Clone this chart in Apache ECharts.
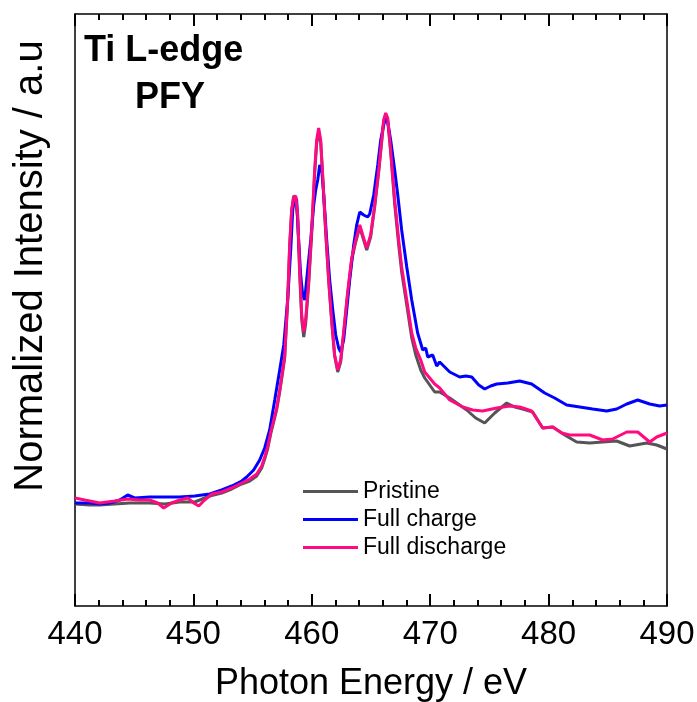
<!DOCTYPE html>
<html>
<head>
<meta charset="utf-8">
<title>Ti L-edge PFY</title>
<script src="https://cdn.jsdelivr.net/npm/echarts@6/dist/echarts.min.js"></script>
<style>
	html, body { margin: 0; padding: 0; background: #ffffff; }
	#echart1 { width: 697px; height: 702px; }
</style>
</head>
<body>
<div id="echart1"></div>
<script>
// 光子能量 (eV) / 归一化强度 (a.u.)
var pristineE = [440.00, 441.24, 442.09, 443.35, 444.62, 446.31, 447.58, 448.84, 450.11, 451.38, 452.39, 453.24, 454.08, 454.76, 455.35, 455.77, 456.02, 456.27, 456.53, 456.78, 457.03, 457.29, 457.54, 457.71, 457.96, 458.13, 458.30, 458.47, 458.64, 458.81, 458.98, 459.15, 459.32, 459.48, 459.74, 459.99, 460.24, 460.41, 460.58, 460.75, 460.92, 461.17, 461.43, 461.68, 461.93, 462.19, 462.44, 462.69, 463.03, 463.37, 463.71, 464.05, 464.30, 464.64, 464.97, 465.31, 465.65, 465.90, 466.07, 466.24, 466.41, 466.66, 467.00, 467.34, 467.59, 468.02, 468.44, 468.78, 469.20, 469.54, 469.96, 470.38, 470.80, 471.65, 473.08, 473.84, 474.60, 475.45, 476.46, 477.14, 477.81, 478.66, 479.50, 480.35, 481.36, 482.37, 483.47, 484.57, 485.75, 486.85, 488.29, 489.13, 490.00];
var pristineI = [0.204, 0.202, 0.202, 0.204, 0.206, 0.206, 0.204, 0.208, 0.208, 0.220, 0.226, 0.234, 0.244, 0.250, 0.260, 0.276, 0.294, 0.314, 0.344, 0.368, 0.392, 0.428, 0.468, 0.496, 0.608, 0.718, 0.792, 0.820, 0.818, 0.772, 0.662, 0.572, 0.538, 0.564, 0.644, 0.744, 0.864, 0.924, 0.948, 0.928, 0.858, 0.748, 0.648, 0.568, 0.500, 0.468, 0.488, 0.544, 0.624, 0.692, 0.728, 0.758, 0.738, 0.712, 0.738, 0.798, 0.868, 0.928, 0.968, 0.982, 0.972, 0.908, 0.804, 0.722, 0.668, 0.602, 0.536, 0.502, 0.472, 0.456, 0.442, 0.428, 0.428, 0.416, 0.392, 0.376, 0.366, 0.386, 0.406, 0.398, 0.394, 0.388, 0.356, 0.358, 0.342, 0.328, 0.326, 0.328, 0.330, 0.320, 0.326, 0.322, 0.314];

var chargeE = [440.00, 441.24, 442.09, 442.93, 443.78, 444.45, 445.04, 446.31, 447.58, 448.84, 450.11, 451.38, 452.39, 453.24, 454.08, 454.50, 455.09, 455.60, 456.02, 456.44, 456.87, 457.29, 457.63, 457.96, 458.22, 458.39, 458.56, 458.72, 458.89, 459.06, 459.23, 459.40, 459.65, 459.91, 460.16, 460.33, 460.50, 460.67, 460.84, 461.01, 461.26, 461.51, 461.77, 462.02, 462.27, 462.44, 462.69, 462.95, 463.20, 463.54, 463.79, 464.05, 464.38, 464.72, 464.89, 465.23, 465.57, 465.82, 466.07, 466.24, 466.41, 466.66, 467.00, 467.26, 467.59, 468.02, 468.44, 468.94, 469.37, 469.62, 469.79, 470.21, 470.55, 470.80, 471.65, 472.49, 473.00, 473.51, 474.10, 474.60, 475.11, 475.62, 476.55, 477.56, 478.57, 479.67, 480.51, 481.53, 482.63, 483.72, 484.91, 485.75, 486.60, 487.53, 488.54, 489.38, 490.00];
var chargeI = [0.206, 0.206, 0.204, 0.206, 0.212, 0.222, 0.216, 0.218, 0.218, 0.218, 0.220, 0.224, 0.232, 0.240, 0.250, 0.258, 0.272, 0.292, 0.316, 0.352, 0.412, 0.472, 0.522, 0.612, 0.712, 0.792, 0.818, 0.812, 0.732, 0.662, 0.622, 0.612, 0.672, 0.732, 0.802, 0.832, 0.852, 0.882, 0.872, 0.822, 0.732, 0.652, 0.592, 0.542, 0.516, 0.508, 0.532, 0.592, 0.652, 0.722, 0.762, 0.788, 0.782, 0.778, 0.784, 0.822, 0.882, 0.932, 0.962, 0.976, 0.968, 0.932, 0.872, 0.822, 0.752, 0.678, 0.612, 0.546, 0.512, 0.516, 0.498, 0.502, 0.480, 0.488, 0.468, 0.458, 0.460, 0.458, 0.442, 0.434, 0.440, 0.444, 0.446, 0.450, 0.444, 0.426, 0.416, 0.402, 0.398, 0.394, 0.390, 0.394, 0.404, 0.412, 0.404, 0.400, 0.402];

var dischargeE = [440.00, 440.82, 442.09, 443.35, 444.45, 445.46, 446.31, 446.98, 447.49, 448.17, 448.84, 449.52, 450.03, 450.45, 450.95, 451.55, 452.39, 453.24, 454.08, 454.76, 455.35, 455.77, 456.02, 456.27, 456.53, 456.78, 457.03, 457.29, 457.54, 457.71, 457.96, 458.13, 458.30, 458.47, 458.64, 458.81, 458.98, 459.15, 459.32, 459.48, 459.74, 459.99, 460.24, 460.41, 460.58, 460.75, 460.92, 461.17, 461.43, 461.68, 461.93, 462.19, 462.44, 462.69, 463.03, 463.37, 463.71, 464.05, 464.30, 464.64, 464.97, 465.31, 465.65, 465.90, 466.07, 466.24, 466.41, 466.66, 467.00, 467.34, 467.59, 468.02, 468.44, 468.78, 469.20, 469.54, 469.96, 470.38, 470.80, 471.65, 472.75, 473.59, 474.43, 475.62, 476.71, 477.56, 478.57, 479.50, 480.35, 481.11, 481.78, 482.63, 483.47, 484.57, 485.41, 486.60, 487.53, 488.54, 489.13, 490.00];
var dischargeI = [0.216, 0.212, 0.206, 0.210, 0.214, 0.212, 0.212, 0.206, 0.196, 0.206, 0.212, 0.216, 0.206, 0.200, 0.212, 0.224, 0.228, 0.236, 0.246, 0.254, 0.264, 0.280, 0.298, 0.318, 0.348, 0.372, 0.396, 0.432, 0.472, 0.500, 0.612, 0.722, 0.792, 0.818, 0.820, 0.782, 0.672, 0.582, 0.548, 0.572, 0.652, 0.752, 0.872, 0.932, 0.956, 0.932, 0.862, 0.752, 0.652, 0.572, 0.502, 0.472, 0.492, 0.548, 0.628, 0.696, 0.732, 0.762, 0.742, 0.716, 0.742, 0.802, 0.872, 0.932, 0.972, 0.986, 0.976, 0.912, 0.812, 0.732, 0.678, 0.612, 0.546, 0.516, 0.492, 0.468, 0.456, 0.444, 0.436, 0.412, 0.398, 0.392, 0.390, 0.396, 0.400, 0.398, 0.390, 0.356, 0.358, 0.346, 0.342, 0.342, 0.342, 0.332, 0.334, 0.348, 0.348, 0.328, 0.338, 0.346];

var seriesNames = ['Pristine', 'Full charge', 'Full discharge'];
var seriesColors = ['#555555', '#0000ff', '#ff0a80'];

var fontName = 'Liberation Sans, Arial, sans-serif';
var tickColor = '#000000';

// 把 x/y 数组拼成 [x, y]
function toPairs(xs, ys) {
	var out = [];
	for (var i = 0; i < xs.length; i++) {
		out.push([xs[i], ys[i]]);
	}
	return out;
}

function lineSeries(idx, data, z) {
	return {
		name : seriesNames[idx],
		type : 'line',
		data : data,
		symbol : 'none',
		z : z,
		lineStyle : {
			color : seriesColors[idx],
			width : 3
		},
		itemStyle : {
			color : seriesColors[idx]
		}
	};
}

// 上下两条 x 轴，刻度朝内，z 放高一点免得被盖住
var xBottom = {
	type : 'value',
	position : 'bottom',
	z : 10,
	min : 440,
	max : 490,
	interval : 10,
	name : 'Photon Energy / eV',
	nameLocation : 'middle',
	nameGap : 60,
	nameTextStyle : { fontFamily : fontName, fontSize : 36, color : '#000' },
	axisLine : { show : true, onZero : false, lineStyle : { color : '#000', width : 1.5 } },
	axisTick : { show : true, inside : true, length : 12, lineStyle : { color : tickColor, width : 2 } },
	minorTick : { show : true, splitNumber : 5, length : 6, lineStyle : { color : tickColor, width : 2 } },
	axisLabel : { show : true, margin : 12, fontFamily : fontName, fontSize : 33, color : '#000' },
	splitLine : { show : false }
};

var xTop = {
	type : 'value',
	position : 'top',
	z : 10,
	min : 440,
	max : 490,
	interval : 10,
	axisLine : { show : true, onZero : false, lineStyle : { color : '#000', width : 1.5 } },
	axisTick : { show : true, inside : true, length : 12, lineStyle : { color : tickColor, width : 2 } },
	minorTick : { show : true, splitNumber : 5, length : 6, lineStyle : { color : tickColor, width : 2 } },
	axisLabel : { show : false },
	splitLine : { show : false }
};

var option = {
	animation : false,
	backgroundColor : '#ffffff',
	title : [ {
		text : 'Ti L-edge',
		left : 79,
		top : 28,
		textStyle : { fontFamily : fontName, fontSize : 36, fontWeight : 'bold', color : '#000' }
	}, {
		text : 'PFY',
		left : 130,
		top : 75,
		textStyle : { fontFamily : fontName, fontSize : 36, fontWeight : 'bold', color : '#000' }
	} ],
	graphic : [ {
		// y 轴标题，不在正中，单独画
		type : 'text',
		x : 31,
		y : 266,
		rotation : Math.PI / 2,
		style : {
			text : 'Normalized Intensity / a.u',
			fontFamily : fontName,
			fontSize : 40,
			fill : '#000',
			align : 'center',
			verticalAlign : 'middle'
		}
	} ],
	legend : {
		orient : 'vertical',
		left : 298,
		top : 475,
		icon : 'rect',
		itemWidth : 55,
		itemHeight : 3,
		itemGap : 5,
		data : seriesNames,
		textStyle : { fontFamily : fontName, fontSize : 23, color : '#000' }
	},
	grid : {
		left : 75,
		top : 14,
		width : 592,
		height : 592,
		outerBoundsMode : 'none'// 不让网格自动缩小
	},
	xAxis : [ xBottom, xTop ],
	yAxis : [ {
		type : 'value',
		min : 0,
		max : 1.184,
		axisLine : { show : true, onZero : false, lineStyle : { color : '#000', width : 1.5 } },
		axisTick : { show : false },
		axisLabel : { show : false },
		splitLine : { show : false }
	}, {
		type : 'value',
		position : 'right',
		min : 0,
		max : 1.184,
		axisLine : { show : true, onZero : false, lineStyle : { color : '#000', width : 1.5 } },
		axisTick : { show : false },
		axisLabel : { show : false },
		splitLine : { show : false }
	} ],
	series : [
		lineSeries(0, toPairs(pristineE, pristineI), 2),
		lineSeries(1, toPairs(chargeE, chargeI), 3),
		lineSeries(2, toPairs(dischargeE, dischargeI), 4)
	]
};

var myCharts1 = echarts.init(document.getElementById('echart1'));
myCharts1.setOption(option, true);
</script>
</body>
</html>
